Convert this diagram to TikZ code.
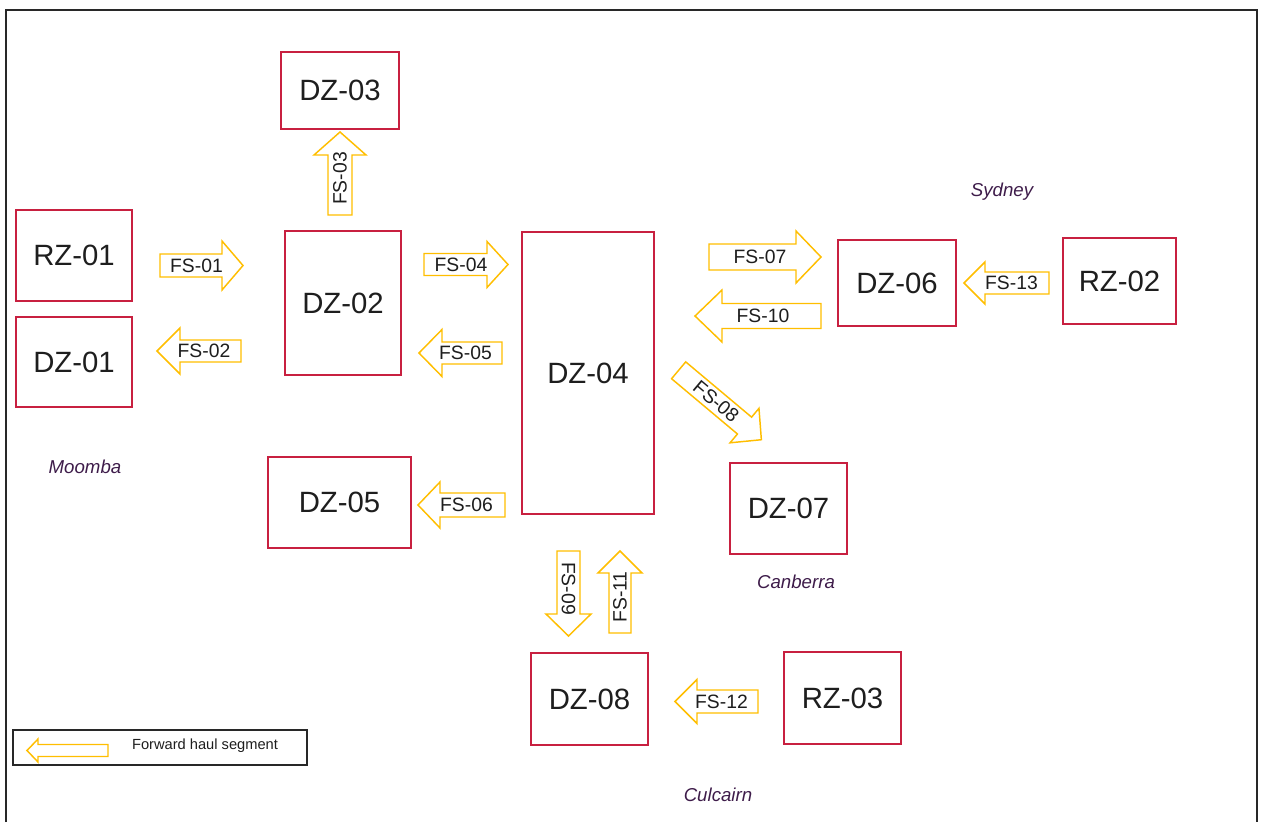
\documentclass[tikz,border=0pt]{standalone}
\usepackage{fontspec}
\setmainfont{Liberation Sans}
\definecolor{zonered}{RGB}{200,32,64}
\definecolor{fsyellow}{RGB}{255,190,0}
\definecolor{placepurple}{RGB}{62,28,74}
\definecolor{txt}{RGB}{30,30,30}
\definecolor{framegrey}{RGB}{40,40,40}
\def\fsarrowdims#1/#2/#3\relax{\def\fsbh{#1}\def\fshh{#2}\def\fshl{#3}}
\newcommand\fsarrow[8]{% name, cx, cy, angle, length, label, text angle, bh/hh/hl
  \fsarrowdims#8\relax
  \begin{scope}[shift={(#2,#3)},rotate=#4]
    \pgfmathsetmacro\fsL{#5/2}
    \pgfmathsetmacro\fsB{#5/2-\fshl}
    \draw[fsarrowline] (-\fsL,\fsbh) -- (\fsB,\fsbh) -- (\fsB,\fshh) -- (\fsL,0)
      -- (\fsB,-\fshh) -- (\fsB,-\fsbh) -- (-\fsL,-\fsbh) -- cycle;
    \node[fslabel,rotate=#7] (#1) at (-5,0) {#6};
  \end{scope}}
\newcommand\zonebox[6]{% name, cx, cy, w, h, label
  \node[zone, minimum width=#4*0.75pt, minimum height=#5*0.75pt] (#1) at (#2,#3) {#6};}
\tikzset{
  zone/.style={draw=zonered, line width=1.1pt, fill=white, text=txt, inner sep=0pt,
    font=\fontsize{22}{26}\selectfont},
  fsarrowline/.style={draw=fsyellow, line width=1.1pt, fill=white, line join=miter},
  fslabel/.style={text=txt, inner sep=0pt, font=\fontsize{14.5}{17}\selectfont},
  place/.style={text=placepurple, inner sep=0pt, font=\fontsize{14}{17}\selectfont\itshape},
  frameline/.style={draw=framegrey, line width=1.1pt},
  legendbox/.style={draw=framegrey, line width=1.1pt, inner sep=0pt},
  legendtext/.style={text=txt, inner sep=0pt, font=\fontsize{11}{13}\selectfont}
}
\begin{document}
\begin{tikzpicture}[x=0.75pt,y=-0.75pt]
\useasboundingbox (0,0) rectangle (1261,822);
\draw[frameline] (6,822) -- (6,10) -- (1257,10) -- (1257,822);

% zones
\zonebox{rz01}{74}{255.5}{116}{91}{RZ-01}
\zonebox{dz01}{74}{362}{116}{90}{DZ-01}
\zonebox{dz03}{340}{90.5}{118}{77}{DZ-03}
\zonebox{dz02}{343}{303}{116}{144}{DZ-02}
\zonebox{dz04}{588}{373}{132}{282}{DZ-04}
\zonebox{dz05}{339.5}{502.5}{143}{91}{DZ-05}
\zonebox{dz06}{897}{283}{118}{86}{DZ-06}
\zonebox{rz02}{1119.5}{281}{113}{86}{RZ-02}
\zonebox{dz07}{788.5}{508.5}{117}{91}{DZ-07}
\zonebox{dz08}{589.5}{699}{117}{92}{DZ-08}
\zonebox{rz03}{842.5}{698}{117}{92}{RZ-03}

% forward haul segments
\fsarrow{fs01}{201.5}{265.5}{0}{83}{FS-01}{0}{11.5/24.5/21}
\fsarrow{fs02}{199}{351}{180}{84}{FS-02}{0}{11/23/23}
\fsarrow{fs03}{340}{173.5}{90}{83}{FS-03}{90}{12/26/23}
\fsarrow{fs04}{466}{264.5}{0}{84}{FS-04}{0}{11/23/21}
\fsarrow{fs05}{460.5}{353}{180}{83}{FS-05}{0}{11/23.5/23}
\fsarrow{fs06}{461.5}{505}{180}{87}{FS-06}{0}{12/23/22}
\fsarrow{fs07}{765}{257}{0}{112}{FS-07}{0}{13/26/25}
\fsarrow{fs10}{758}{316}{180}{126}{FS-10}{0}{12.5/26/27}
\fsarrow{fs13}{1006.5}{283}{180}{85}{FS-13}{0}{11/21/21}
\fsarrow{fs08}{720}{405}{-40}{108}{FS-08}{-40}{11/22.5/22}
\fsarrow{fs09}{568.5}{593.5}{-90}{85}{FS-09}{-90}{11.5/22.5/22}
\fsarrow{fs11}{620}{592}{90}{82}{FS-11}{90}{11/22/22}
\fsarrow{fs12}{716.5}{701.5}{180}{83}{FS-12}{0}{11.5/22/22}

% places
\node[place] (sydney) at (1002,192) {Sydney};
\node[place] (moomba) at (85,467) {Moomba};
\node[place] (canberra) at (796,582) {Canberra};
\node[place] (culcairn) at (718,795) {Culcairn};

% legend
\node[legendbox, minimum width=294*0.75pt, minimum height=35*0.75pt] (legend) at (160,747.5) {};
\fsarrow{legendarrow}{67.5}{750.5}{180}{81}{}{0}{6/11.5/11}
\node[legendtext] (legendlabel) at (205,746) {Forward haul segment};
\end{tikzpicture}
\end{document}
